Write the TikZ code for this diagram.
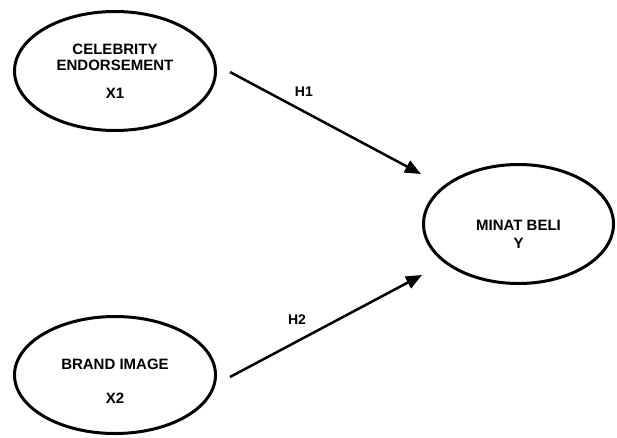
\documentclass[tikz,border=0pt]{standalone}
\usepackage{fontspec}
\setsansfont{Liberation Sans}
\usetikzlibrary{arrows.meta,shapes.geometric}

\begin{document}
\begin{tikzpicture}[x=1pt,y=-1pt,->,>={Triangle[length=16pt,width=13pt]},line width=2.5pt,
                        main node/.style={ellipse,draw,line width=3pt,inner sep=0pt,align=center,font=\sffamily\bfseries\fontsize{15}{16}\selectfont},
                        hyp/.style={font=\sffamily\bfseries\fontsize{14}{16}\selectfont}]
      \useasboundingbox (0,0) rectangle (617,437);
      \node[main node,minimum width=201pt,minimum height=119pt] (X1) at (115,71) {CELEBRITY\\ENDORSEMENT\\[12pt]X1};
      \node[main node,minimum width=201pt,minimum height=117pt] (X2) at (115,375) {\rule{0pt}{23pt}BRAND IMAGE\\[18pt]X2};
      \node[main node,minimum width=190pt,minimum height=119pt] (Y) at (518.5,224) {\rule{0pt}{31pt}MINAT BELI\\[2pt]Y};

      % free ends of the paths
      \coordinate (X1out) at (230,72);
      \coordinate (Yin1) at (421,174);
      \coordinate (X2out) at (230,377);
      \coordinate (Yin2) at (422,275);

      \draw (X1out) -- node[hyp,pos=0.387,above=10pt] (H1) {H1} (Yin1);
      \draw (X2out) -- node[hyp,pos=0.349,above=12pt] (H2) {H2} (Yin2);
\end{tikzpicture}
\end{document}
